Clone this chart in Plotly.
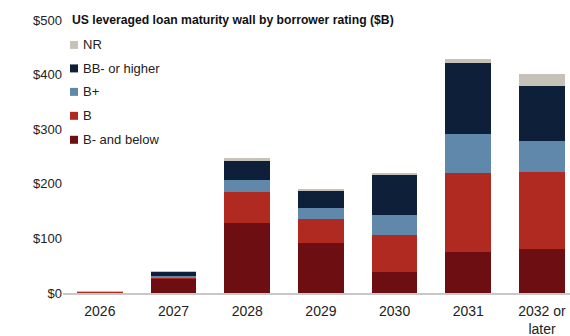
import plotly.graph_objects as go

categories = ["2026", "2027", "2028", "2029", "2030", "2031", "2032 or<br>later"]
b_minus_below = [1, 26, 128, 91, 38, 76, 81]
b_vals = [1, 3, 57, 44, 68, 143, 141]
b_plus = [0.5, 2, 22, 21, 36, 73, 57]
bb_higher = [0.5, 8, 35, 31, 74, 130, 101]
nr_vals = [0.3, 1, 5, 4, 4, 7, 21]
y_ticks = [0, 100, 200, 300, 400, 500]
y_tick_labels = ["$0", "$100", "$200", "$300", "$400", "$500"]

series = [
    ("B- and below", b_minus_below, "#6d0e13"),
    ("B", b_vals, "#b02a22"),
    ("B+", b_plus, "#6088ab"),
    ("BB- or higher", bb_higher, "#0e1f3a"),
    ("NR", nr_vals, "#c7c2b7"),
]

W, H = 570, 336
L, R, T, B = 63, 0, 20, 42.5
PW, PH = W - L - R, H - T - B

def px_x(x):
    return (x - L) / PW

def px_y(y):
    return (H - B - y) / PH

fig = go.Figure()
for name, vals, color in series:
    fig.add_trace(go.Bar(
        x=categories, y=vals, name=name,
        marker=dict(color=color, line=dict(width=0)),
        width=0.62, showlegend=False,
    ))

# manual legend (top row = last series)
shapes = []
annotations = []
row_y = [45, 68.5, 92, 116, 140]
for (name, _, color), yy in zip(reversed(series), row_y):
    shapes.append(dict(
        type="rect", xref="paper", yref="paper",
        x0=px_x(70), x1=px_x(78), y0=px_y(yy + 4), y1=px_y(yy - 4),
        fillcolor=color, line=dict(width=0), layer="above",
    ))
    annotations.append(dict(
        text=name, xref="paper", yref="paper", x=px_x(81), y=px_y(yy),
        xanchor="left", yanchor="middle", showarrow=False,
        font=dict(size=13, color="#222222"),
    ))

annotations.append(dict(
    text="<b>US leveraged loan maturity wall by borrower rating ($B)</b>",
    xref="paper", yref="paper", x=px_x(70), y=px_y(19.5),
    xanchor="left", yanchor="middle", showarrow=False,
    font=dict(size=12.2, color="#111111"),
))

FONT = "Liberation Sans, Arial, sans-serif"
fig.update_layout(
    barmode="stack",
    width=W, height=H,
    margin=dict(l=L, r=R, t=T, b=B, autoexpand=False),
    paper_bgcolor="white", plot_bgcolor="white",
    font=dict(family=FONT, size=13, color="#222222"),
    showlegend=False,
    xaxis=dict(
        range=[-0.5, 6.38], showgrid=False, showline=True, linecolor="#c8c8c8",
        linewidth=1.5, ticks="", tickfont=dict(size=14, color="#222222"),
        ticklabelstandoff=4, automargin=False,
    ),
    yaxis=dict(
        range=[0, 500], tickvals=y_ticks, ticktext=y_tick_labels,
        showgrid=False, zeroline=False, showline=False, ticks="",
        tickfont=dict(size=13, color="#222222"), automargin=False,
    ),
    shapes=shapes,
    annotations=annotations,
)

fig.write_html("out.html")
